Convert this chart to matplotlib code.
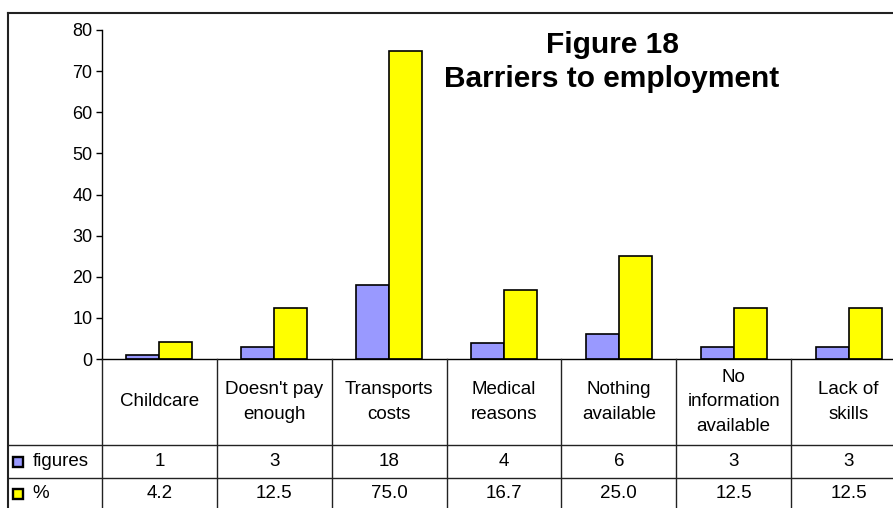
import matplotlib.pyplot as plt
from matplotlib.lines import Line2D

plt.rcParams["font.family"] = ["Liberation Sans", "DejaVu Sans"]

categories = ["Childcare", "Doesn't pay\nenough", "Transports\ncosts", "Medical\nreasons",
              "Nothing\navailable", "No\ninformation\navailable", "Lack of\nskills"]
figures = [1, 3, 18, 4, 6, 3, 3]
percent = [4.2, 12.5, 75.0, 16.7, 25.0, 12.5, 12.5]
series_names = ["figures", "%"]
colors = ["#9999FF", "#FFFF00"]

W, H = 893, 508
fig = plt.figure(figsize=(W / 100, H / 100), dpi=100)

# pixel layout (measured from top-left)
frame_x, frame_y = 8, 13
ax_left, ax_right = 102, 906
ax_top, ax_bottom = 30, 359
col_w = (ax_right - ax_left) / len(categories)


def fx(px):
    return px / W


def fy(py):
    return 1 - py / H


# outer frame
fig.add_artist(Line2D([fx(frame_x), fx(frame_x)], [fy(frame_y), 0], color="#222222", lw=1.5))
fig.add_artist(Line2D([fx(frame_x), 1], [fy(frame_y), fy(frame_y)], color="#222222", lw=1.5))

ax = fig.add_axes([fx(ax_left), fy(ax_bottom), fx(ax_right - ax_left), (ax_bottom - ax_top) / H])
x = list(range(len(categories)))
bw = 33 / col_w
ax.bar([i - bw / 2 for i in x], figures, width=bw, color=colors[0], edgecolor="black", linewidth=1.2)
ax.bar([i + bw / 2 for i in x], percent, width=bw, color=colors[1], edgecolor="black", linewidth=1.2)
ax.set_xlim(-0.5, len(categories) - 0.5)
ax.set_ylim(0, 80)
ax.set_yticks(range(0, 81, 10))
ax.set_xticks([])
ax.tick_params(axis="y", direction="out", length=4, width=1, pad=3, labelsize=13)
for s in ["top", "right"]:
    ax.spines[s].set_visible(False)
ax.spines["left"].set_linewidth(1)
ax.spines["bottom"].set_linewidth(1)

fig.text(fx(612), fy(62), "Figure 18\nBarriers to employment",
         ha="center", va="center", fontsize=21.5, fontweight="bold", linespacing=1.25)

# data table below the plot
tab = fig.add_axes([fx(frame_x), 0, fx(ax_right - frame_x), fy(ax_bottom)])
x0 = -0.5 - (ax_left - frame_x) / col_w
tab.set_xlim(x0, len(categories) - 0.5)
tab.set_ylim(H - ax_bottom, 0)
tab.axis("off")
row_lines = [86, 119]
row_mid = [43, 102.5, 135]
line_c = "#222222"
for r in row_lines:
    tab.plot([x0, len(categories) - 0.5], [r, r], color=line_c, lw=1, clip_on=False)
for i in range(len(categories)):
    tab.plot([i - 0.5, i - 0.5], [0, H - ax_bottom], color=line_c, lw=1, clip_on=False)

for i, c in enumerate(categories):
    tab.text(i, row_mid[0], c, ha="center", va="center", fontsize=13.5, linespacing=1.55)
    tab.text(i, row_mid[1], f"{figures[i]}", ha="center", va="center", fontsize=13.5)
    tab.text(i, row_mid[2], f"{percent[i]:.1f}", ha="center", va="center", fontsize=13.5)

for k, name in enumerate(series_names):
    y = row_mid[k + 1]
    tab.plot([x0 + 10 / col_w], [y], marker="s", markersize=6.5, markerfacecolor=colors[k],
             markeredgecolor="black", markeredgewidth=1.7, clip_on=False)
    tab.text(x0 + 24.5 / col_w, y, name, ha="left", va="center", fontsize=13.5)

fig.savefig("out.png", dpi=100)
